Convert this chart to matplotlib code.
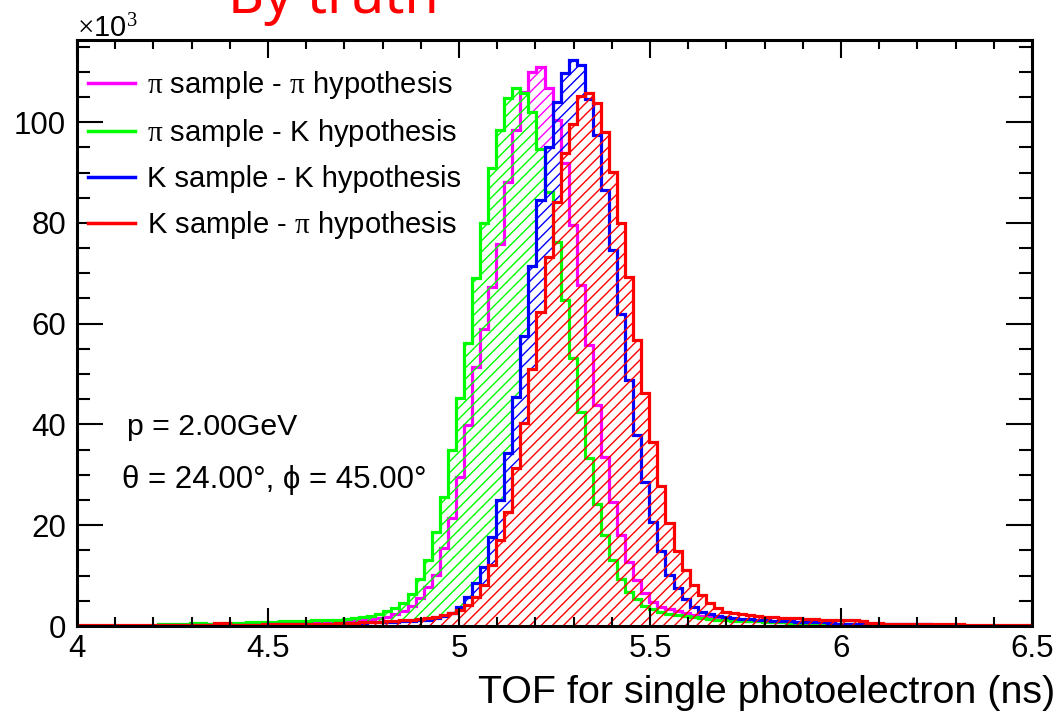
import numpy as np
import matplotlib
matplotlib.use("Agg")
import matplotlib.pyplot as plt
from matplotlib.ticker import MultipleLocator

# TOF per single photoelectron, counts in units of 10^3, bins of 0.0211 ns from 4 ns
bin_width = 0.0211
edges = 4.0 + bin_width * np.arange(120)

pi_pi = [0, 0, 0, 0, 0, 0, 0, 0, 0, 0,
         0.3, 0.3, 0.3, 0.3, 0.3, 0.3, 0.4, 0.4, 0.4, 0.4,
         0.4, 0.5, 0.5, 0.5, 0.5, 0.5, 0.6, 0.6, 0.6, 0.7,
         0.7, 0.8, 0.8, 0.9, 1.0, 1.1, 1.3, 1.5, 1.8, 2.3,
         3.0, 4.0, 5.5, 7.8, 10.1, 15.4, 21.5, 29.6, 39.8, 51.4,
         59.0, 67.3, 75.9, 88.2, 98.4, 106.0, 110.0, 111.0, 106.7, 100.4,
         91.8, 79.6, 67.7, 55.8, 43.8, 33.6, 24.7, 18.1, 12.8, 9.1,
         6.5, 4.8, 3.7, 3.3, 3.0, 2.6, 2.2, 1.9, 1.7, 1.5,
         1.3, 1.2, 1.1, 1.0, 1.0, 0.9, 0.8, 0.8, 0.7, 0.7,
         0.6, 0.6, 0.5, 0.5, 0.5, 0.4, 0.4, 0.4, 0.3, 0.3,
         0.3, 0.3, 0.2, 0.2, 0.2, 0.2, 0.2, 0.2, 0, 0,
         0, 0, 0, 0, 0, 0, 0, 0, 0]

pi_K = [0, 0, 0, 0, 0, 0, 0, 0, 0, 0,
        0.4, 0.5, 0.5, 0.5, 0.6, 0.6, 0.5, 0.5, 0.6, 0.6,
        0.6, 0.7, 0.7, 0.7, 0.8, 0.9, 0.9, 1.0, 1.0, 1.1,
        1.1, 1.2, 1.2, 1.3, 1.5, 1.7, 2.0, 2.4, 2.9, 3.6,
        4.5, 6.3, 9.3, 13.1, 18.7, 25.7, 34.9, 45.2, 56.1, 69.0,
        79.9, 90.8, 98.4, 104.7, 106.7, 105.7, 102.0, 94.6, 86.2, 76.2,
        64.7, 53.1, 42.5, 33.3, 24.3, 18.1, 13.1, 9.3, 6.8, 5.3,
        4.0, 3.3, 2.8, 2.4, 2.1, 1.9, 1.7, 1.5, 1.3, 1.2,
        1.1, 1.0, 1.0, 0.9, 0.9, 0.8, 0.7, 0.7, 0.6, 0.6,
        0.6, 0.5, 0.5, 0.5, 0.5, 0.5, 0.4, 0.4, 0.4, 0.4,
        0.3, 0.3, 0.3, 0.3, 0.3, 0.3, 0.3, 0, 0, 0,
        0, 0, 0, 0, 0, 0, 0, 0, 0]

K_K = [0, 0, 0, 0, 0, 0, 0, 0, 0, 0,
       0.2, 0.2, 0.2, 0.2, 0.2, 0.3, 0.3, 0.3, 0.4, 0.3,
       0.3, 0.3, 0.3, 0.3, 0.4, 0.4, 0.4, 0.4, 0.4, 0.5,
       0.5, 0.5, 0.5, 0.6, 0.6, 0.6, 0.7, 0.7, 0.8, 0.8,
       0.9, 1.0, 1.1, 1.2, 1.5, 2.0, 2.5, 3.8, 5.8, 8.5,
       11.8, 17.7, 25.0, 34.3, 45.5, 57.5, 71.5, 84.5, 95.1, 104.0,
       109.7, 112.3, 111.3, 104.5, 97.4, 86.5, 74.6, 62.0, 48.8, 37.9,
       28.6, 20.6, 14.8, 10.1, 7.5, 5.3, 3.8, 2.8, 2.3, 2.0,
       1.8, 1.6, 1.4, 1.3, 1.2, 1.1, 1.0, 0.9, 0.9, 0.8,
       0.8, 0.7, 0.7, 0.6, 0.5, 0.5, 0.5, 0.4, 0.4, 0.4,
       0.4, 0.4, 0.4, 0.4, 0.4, 0.4, 0.3, 0.3, 0, 0,
       0, 0, 0, 0, 0, 0, 0, 0, 0]

K_pi = [0.2, 0.2, 0.2, 0.2, 0.2, 0.2, 0.2, 0.2, 0.2, 0.2,
        0.2, 0.2, 0.3, 0.3, 0.3, 0.3, 0.3, 0.6, 0.6, 0.3,
        0.3, 0.3, 0.3, 0.4, 0.4, 0.4, 0.4, 0.5, 0.5, 0.5,
        0.5, 0.5, 0.6, 0.6, 0.6, 0.7, 0.8, 0.8, 0.9, 1.0,
        1.1, 1.2, 1.4, 1.6, 1.8, 2.1, 2.5, 3.1, 4.2, 5.8,
        8.1, 12.1, 17.1, 22.7, 31.3, 40.2, 51.1, 62.4, 73.3, 84.2,
        93.8, 99.7, 105.2, 105.7, 103.8, 98.1, 90.1, 79.9, 69.3, 56.7,
        46.2, 36.6, 27.8, 20.5, 14.9, 11.2, 8.1, 6.2, 4.5, 3.5,
        2.8, 2.6, 2.3, 2.1, 1.9, 1.8, 1.7, 1.6, 1.5, 1.5,
        1.4, 1.4, 1.2, 1.2, 1.2, 1.1, 1.1, 1.0, 0.6, 0.6,
        0.5, 0.5, 0.5, 0.5, 0.5, 0.5, 0.5, 0.5, 0.4, 0.4,
        0.3, 0.3, 0.3, 0.3, 0.3, 0.3, 0.3, 0.3, 0.3]

labels = [r"$\pi$ sample - $\pi$ hypothesis",
          r"$\pi$ sample - K hypothesis",
          "K sample - K hypothesis",
          r"K sample - $\pi$ hypothesis"]
colors = ["#ff00ff", "#00ff00", "#0000ff", "#ff0000"]

plt.rcParams['font.family'] = ['Liberation Sans', 'DejaVu Sans']
plt.rcParams['mathtext.fontset'] = 'custom'
plt.rcParams['mathtext.rm'] = 'Liberation Serif'
plt.rcParams['mathtext.it'] = 'Liberation Serif'
plt.rcParams['hatch.linewidth'] = 1.0

fig = plt.figure(figsize=(10.64, 7.18), dpi=100)
ax = fig.add_axes([0.0724, 0.1281, 0.8976, 0.8162])

series = [np.array(s, dtype=float) for s in (pi_pi, pi_K, K_K, K_pi)]
lines = []
for k, (vals, c, lab) in enumerate(zip(series, colors, labels)):
    # later histograms paint their hatch over earlier ones, like in ROOT
    covered = np.zeros_like(vals)
    for later in series[k + 1:]:
        covered = np.maximum(covered, later)
    ax.stairs(np.maximum(vals, covered), edges, baseline=covered, fill=True,
              facecolor='none', edgecolor=c, hatch='///', linewidth=0)
    h = ax.stairs(vals, edges, baseline=0, color=c, linewidth=2.3)
    h.set_joinstyle('miter')
    lines.append(ax.plot([], [], color=c, linewidth=2.5, label=lab)[0])

ax.set_xlim(4, 6.5)
ax.set_ylim(0, 116.3)
ax.xaxis.set_minor_locator(MultipleLocator(0.1))
ax.yaxis.set_major_locator(MultipleLocator(20))
ax.yaxis.set_minor_locator(MultipleLocator(5))
ax.set_xticks([4, 4.5, 5, 5.5, 6, 6.5])
ax.set_xticklabels(["4", "4.5", "5", "5.5", "6", "6.5"])
for s in ax.spines.values():
    s.set_linewidth(2.2)
ax.tick_params(axis='both', which='both', direction='in', top=True, right=True,
               width=1.5, labelsize=22.5)
ax.tick_params(axis='x', which='major', length=12.7, pad=6)
ax.tick_params(axis='x', which='minor', length=6.3)
ax.tick_params(axis='y', which='major', length=19, pad=8)
ax.tick_params(axis='y', which='minor', length=9.5)

ax.legend(handles=lines, loc='upper left', bbox_to_anchor=(0.0115, 0.95),
          frameon=False, fontsize=21, handlelength=1.61, handletextpad=0.41,
          labelspacing=0.55, borderaxespad=0, borderpad=0)

ax.text(0.052, 0.34, "p = 2.00GeV", transform=ax.transAxes, fontsize=21.8,
        va='center')
ax.text(0.047, 0.249, "\u03b8 = 24.00\u00b0, \u03d5 = 45.00\u00b0",
        transform=ax.transAxes, fontsize=22.5, va='center')

fig.text(0.0724, 1 - 37 / 718, r"$\times$10$^{3}$", fontsize=21,
         va='baseline', ha='left')
fig.text(1055 / 1064, 1 - 703 / 718, "TOF for single photoelectron (ns)",
         fontsize=28.4, ha='right', va='baseline')
fig.text(0.313, 1 - 13 / 718, "By truth", color='#ff0000', fontsize=40,
         family=['Noto Sans', 'DejaVu Sans'], ha='center', va='baseline')

fig.savefig("out.png", dpi=100)
